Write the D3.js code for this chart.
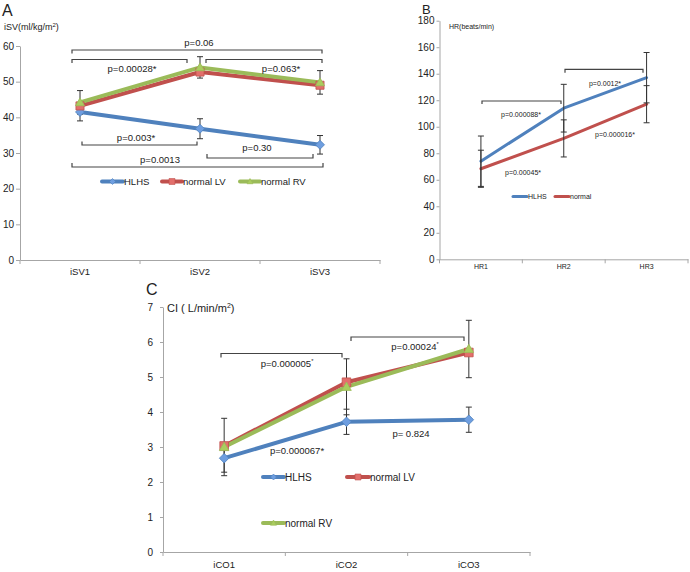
<!DOCTYPE html>
<html><head><meta charset="utf-8">
<script src="https://cdn.jsdelivr.net/npm/d3@7"></script>
<style>
body{margin:0;background:#fff}
svg{display:block}
text{font-family:"Liberation Sans",Arial,Helvetica,sans-serif;fill:#222}
</style>
</head><body>
<svg id="chart" width="690" height="572"></svg>
<script>
// ---------- Panel A data ----------
const aCategories = ["iSV1", "iSV2", "iSV3"];
const aHLHS = [41.5, 36.8, 32.3];
const aNormalLV = [43.2, 52.7, 49.0];
const aNormalRV = [44.2, 54.0, 49.8];
const aErrHLHS = [2.5, 2.8, 2.6];
const aErrRV = [3.3, 3.0, 3.3];
const aTicks = [0, 10, 20, 30, 40, 50, 60];
const aPValues = ["p=0.06", "p=0.00028*", "p=0.063*", "p=0.003*", "p=0.0013", "p=0.30"];

// ---------- Panel B data ----------
const bCategories = ["HR1", "HR2", "HR3"];
const bHLHS = [74, 114, 137];
const bNormal = [68.3, 91.2, 117];
const bErrHLHS = [19, 18, 19];
const bErrNormal = [14, 14, 14];
const bTicks = [0, 20, 40, 60, 80, 100, 120, 140, 160, 180];
const bPValues = ["p=0.000088*", "p=0.0012*", "p=0.000016*", "p=0.00045*"];

// ---------- Panel C data ----------
const cCategories = ["iCO1", "iCO2", "iCO3"];
const cHLHS = [2.68, 3.72, 3.78];
const cNormalLV = [3.03, 4.85, 5.7];
const cNormalRV = [3.0, 4.72, 5.8];
const cErrHLHS = [0.4, 0.36, 0.36];
const cErrRV = [0.82, 0.8, 0.82];
const cTicks = [0, 1, 2, 3, 4, 5, 6, 7];
const cPValues = ["p=0.000005", "p=0.00024", "p=0.000067*", "p= 0.824"];

const seriesNames = ["HLHS", "normal LV", "normal RV", "normal"];

// ---------- styles ----------
const COL = {
  blue: "#4f81bd", blueM: "#6e9ee0",
  red: "#c0504d", redM: "#e36f6c",
  green: "#9bbb59", greenM: "#aacd5e",
  axis: "#a6a6a6", err: "#333", br: "#444"
};
const FONT = '"Liberation Sans",Arial,Helvetica,sans-serif';
const svg = d3.select("#chart");

function markerPath(type, s) {
  if (type === "diamond") return `M0,${-s}L${s},0L0,${s}L${-s},0Z`;
  if (type === "square") return `M${-s*0.9},${-s*0.9}H${s*0.9}V${s*0.9}H${-s*0.9}Z`;
  if (type === "triangle") return `M0,${-s}L${s},${s*0.75}L${-s},${s*0.75}Z`;
  return "";
}

function panel(cfg) {
  const g = svg.append("g");
  const x = d3.scaleBand().domain(cfg.cats).range([cfg.x0, cfg.x1]);
  const y = d3.scaleLinear().domain([0, cfg.ymax]).range([cfg.yb, cfg.yt]);
  const cx = c => x(c) + x.bandwidth() / 2;

  // y axis
  const ya = g.append("g").attr("transform", `translate(${cfg.x0},0)`)
    .call(d3.axisLeft(y).tickValues(cfg.ticks).tickFormat(d3.format("d"))
      .tickSize(cfg.tickSize).tickSizeOuter(0).tickPadding(cfg.tickPad));
  ya.select(".domain").attr("stroke", COL.axis).attr("stroke-width", 1);
  ya.selectAll(".tick line").attr("stroke", COL.axis);
  ya.selectAll(".tick text").attr("font-family", FONT).attr("font-size", cfg.tickFont).attr("fill", "#333");

  // x axis
  const xa = g.append("g").attr("transform", `translate(0,${cfg.yb})`)
    .call(d3.axisBottom(x).tickSize(0).tickPadding(cfg.xLabelOff).tickSizeOuter(0));
  xa.select(".domain").attr("stroke", COL.axis).attr("stroke-width", 1);
  xa.selectAll(".tick text").attr("font-family", FONT).attr("font-size", cfg.xFont).attr("fill", "#333");
  const bounds = d3.range(cfg.cats.length + 1).map(i => cfg.x0 + i * x.step());
  xa.selectAll("line.bt").data(bounds).join("line").attr("class", "bt")
    .attr("x1", d => d).attr("x2", d => d).attr("y1", 0).attr("y2", 4)
    .attr("stroke", COL.axis);

  // lines
  const line = d3.line().x((d, i) => cx(cfg.cats[i])).y(d => y(d));
  cfg.series.forEach(s => {
    g.append("path").datum(s.values).attr("d", line)
      .attr("fill", "none").attr("stroke", s.color).attr("stroke-width", cfg.lineW)
      .attr("stroke-linejoin", "round").attr("stroke-linecap", "round");
  });
  // error bars
  cfg.series.forEach(s => {
    if (!s.err) return;
    s.values.forEach((v, i) => {
      const X = cx(cfg.cats[i]);
      const y1 = y(v + s.err[i]), y2 = y(v - s.err[i]);
      g.append("line").attr("x1", X).attr("x2", X).attr("y1", y1).attr("y2", y2)
        .attr("stroke", COL.err).attr("stroke-width", 1);
      [y1, y2].forEach(yy => g.append("line").attr("x1", X - 3).attr("x2", X + 3)
        .attr("y1", yy).attr("y2", yy).attr("stroke", COL.err).attr("stroke-width", 1));
    });
  });
  // markers
  cfg.series.forEach(s => {
    if (!s.marker) return;
    g.selectAll(null).data(s.values).join("path")
      .attr("transform", (d, i) => `translate(${cx(cfg.cats[i])},${y(d)})`)
      .attr("d", markerPath(s.marker, cfg.markerS))
      .attr("fill", s.mfill).attr("stroke", s.color).attr("stroke-width", 0.8);
  });
  return { g, x, y, cx };
}

function bracket(g, x1, x2, yy, dir, len) {
  g.append("path")
    .attr("d", `M${x1},${yy + dir * len}V${yy}H${x2}V${yy + dir * len}`)
    .attr("fill", "none").attr("stroke", COL.br).attr("stroke-width", 1.2);
}
function label(g, txt, xx, yy, size, anchor, sup) {
  const t = g.append("text").attr("x", xx).attr("y", yy).attr("font-size", size)
    .attr("text-anchor", anchor || "middle").text(txt);
  if (sup) t.append("tspan").attr("font-size", size * 0.6).attr("dy", -size * 0.4).text(sup);
  return t;
}
function legendItem(g, xx, yy, w, color, mfill, marker, ms, lw, txt, size) {
  g.append("line").attr("x1", xx).attr("x2", xx + w).attr("y1", yy).attr("y2", yy)
    .attr("stroke", color).attr("stroke-width", lw).attr("stroke-linecap", "round");
  if (marker) g.append("path").attr("transform", `translate(${xx + w / 2},${yy})`)
    .attr("d", markerPath(marker, ms)).attr("fill", mfill).attr("stroke", color).attr("stroke-width", 0.6);
  g.append("text").attr("x", xx + w + 1).attr("y", yy + size * 0.36).attr("font-size", size).text(txt);
}

// ================= Panel A =================
{
  const p = panel({
    cats: aCategories, x0: 20, x1: 380, yb: 260, yt: 46, ymax: 60, ticks: aTicks,
    tickSize: 4, tickPad: 2, tickFont: 10, xFont: 9.5, xLabelOff: 8, lineW: 4, markerS: 4.5,
    series: [
      { values: aHLHS, color: COL.blue, mfill: COL.blueM, marker: "diamond", err: aErrHLHS },
      { values: aNormalLV, color: COL.red, mfill: COL.redM, marker: "square" },
      { values: aNormalRV, color: COL.green, mfill: COL.greenM, marker: "triangle", err: aErrRV }
    ]
  });
  const g = p.g;
  g.append("text").attr("x", 2).attr("y", 16).attr("font-size", 16).text("A");
  const t = g.append("text").attr("x", 4).attr("y", 29.5).attr("font-size", 9).text("iSV(ml/kg/m");
  t.append("tspan").attr("font-size", 6).attr("dy", -3).text("2");
  t.append("tspan").attr("dy", 3).text(")");

  bracket(g, 72, 322, 50, 1, 3.5);   label(g, aPValues[0], 199, 45.5, 9.5);
  bracket(g, 72, 187, 59.5, 1, 3.5); label(g, aPValues[1], 132, 72, 9.5);
  bracket(g, 206, 322, 59.5, 1, 3.5);label(g, aPValues[2], 281, 72, 9.5);
  bracket(g, 82, 197, 145, -1, 3.5); label(g, aPValues[3], 136, 141, 9.5);
  bracket(g, 72, 323, 167, -1, 4);   label(g, aPValues[4], 160, 163, 9.5);
  bracket(g, 207, 313, 158, -1, 4);  label(g, aPValues[5], 257, 150.5, 9.5);

  legendItem(g, 102, 181.5, 21, COL.blue, COL.blueM, "diamond", 3, 4, seriesNames[0], 9.5);
  legendItem(g, 162, 181.5, 20, COL.red, COL.redM, "square", 3.3, 4, seriesNames[1], 9.5);
  legendItem(g, 240, 181.5, 20, COL.green, COL.greenM, "triangle", 3, 4, seriesNames[2], 9.5);
}

// ================= Panel B =================
{
  const p = panel({
    cats: bCategories, x0: 439.5, x1: 688, yb: 259.3, yt: 20.7, ymax: 180, ticks: bTicks,
    tickSize: 3, tickPad: 2, tickFont: 10, xFont: 7, xLabelOff: 5, lineW: 3, markerS: 0,
    series: [
      { values: bHLHS, color: COL.blue, err: bErrHLHS },
      { values: bNormal, color: COL.red, err: bErrNormal }
    ]
  });
  const g = p.g;
  g.append("text").attr("x", 422).attr("y", 13.5).attr("font-size", 13).text("B");
  g.append("text").attr("x", 449).attr("y", 28.5).attr("font-size", 7).text("HR(beats/min)");

  bracket(g, 482, 561, 101, 1, 3); label(g, bPValues[0], 521, 117, 7);
  bracket(g, 565, 643, 69.3, 1, 3.5); label(g, bPValues[1], 605, 86, 7);
  label(g, bPValues[2], 615, 137, 7);
  label(g, bPValues[3], 523, 175, 7);

  legendItem(g, 513, 196.5, 14, COL.blue, null, null, 0, 3, seriesNames[0], 7);
  legendItem(g, 555, 196.5, 14, COL.red, null, null, 0, 3, seriesNames[3], 7);
}

// ================= Panel C =================
{
  const p = panel({
    cats: cCategories, x0: 163, x1: 530, yb: 552, yt: 307, ymax: 7, ticks: cTicks,
    tickSize: 3, tickPad: 7, tickFont: 10, xFont: 9.5, xLabelOff: 9.5, lineW: 4, markerS: 4.8,
    series: [
      { values: cHLHS, color: COL.blue, mfill: COL.blueM, marker: "diamond", err: cErrHLHS },
      { values: cNormalLV, color: COL.red, mfill: COL.redM, marker: "square" },
      { values: cNormalRV, color: COL.green, mfill: COL.greenM, marker: "triangle", err: cErrRV }
    ]
  });
  const g = p.g;
  g.append("text").attr("x", 146).attr("y", 294.5).attr("font-size", 16).text("C");
  const t = g.append("text").attr("x", 167).attr("y", 312).attr("font-size", 11).text("CI ( L/min/m");
  t.append("tspan").attr("font-size", 7).attr("dy", -4).text("2");
  t.append("tspan").attr("dy", 4).text(")");

  bracket(g, 221, 342, 353.5, 1, 4); label(g, cPValues[0], 287, 367, 9.5, "middle", "*");
  bracket(g, 351, 464, 337, 1, 4);   label(g, cPValues[1], 415, 350, 9.5, "middle", "*");
  label(g, cPValues[2], 297, 454, 9.5);
  label(g, cPValues[3], 411, 436.5, 9.5);

  legendItem(g, 263, 477, 21, COL.blue, COL.blueM, "diamond", 3, 4, seriesNames[0], 10);
  legendItem(g, 347, 477, 22, COL.red, COL.redM, "square", 3.3, 4, seriesNames[1], 10);
  legendItem(g, 263, 523, 21, COL.green, COL.greenM, "triangle", 3, 4, seriesNames[2], 10);
}
</script>
</body></html>
